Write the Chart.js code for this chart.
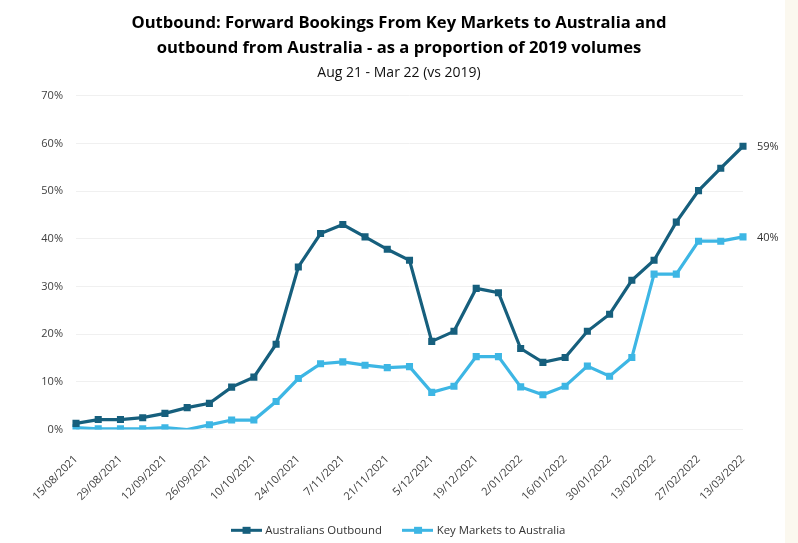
<!DOCTYPE html>
<html>
<head>
<meta charset="utf-8">
<script src="https://cdn.jsdelivr.net/npm/chart.js@4/dist/chart.umd.min.js"></script>
<style>
html,body{margin:0;padding:0;background:#ffffff;}
</style>
</head>
<body>
<canvas id="c" width="798" height="543"></canvas>
<script>
const weeks = ["15/08/2021","22/08/2021","29/08/2021","5/09/2021","12/09/2021","19/09/2021","26/09/2021","3/10/2021","10/10/2021","17/10/2021","24/10/2021","31/10/2021","7/11/2021","14/11/2021","21/11/2021","28/11/2021","5/12/2021","12/12/2021","19/12/2021","26/12/2021","2/01/2022","9/01/2022","16/01/2022","23/01/2022","30/01/2022","6/02/2022","13/02/2022","20/02/2022","27/02/2022","6/03/2022","13/03/2022"];
const australiansOutbound = [1.3,2.1,2.1,2.5,3.4,4.6,5.5,8.9,11.0,17.9,34.1,41.1,43.0,40.4,37.8,35.5,18.5,20.6,29.6,28.7,17.0,14.1,15.1,20.6,24.2,31.3,35.5,43.5,50.1,54.8,59.4];
const keyMarketsToAustralia = [0.4,0.15,0.15,0.15,0.4,0,1.0,2.0,2.0,5.9,10.7,13.8,14.2,13.5,13.0,13.2,7.8,9.1,15.3,15.3,8.95,7.3,9.1,13.3,11.2,15.1,32.6,32.6,39.5,39.5,40.4];
const yTicks = [0,10,20,30,40,50,60,70];
const seriesNames = ["Australians Outbound","Key Markets to Australia"];

const DARK = '#165F7D', LIGHT = '#3DB6E4';
const FONT = "'Open Sans', sans-serif";

function legendIcon(color){
  const c = document.createElement('canvas');
  c.width = 31; c.height = 9;
  const g = c.getContext('2d');
  g.fillStyle = color;
  g.fillRect(0,3,31,3);
  g.fillRect(12,1,8,7);
  return c;
}

const sideStripe = {
  id:'sideStripe',
  beforeDraw(chart){
    const ctx = chart.ctx;
    ctx.save();
    ctx.fillStyle = '#ffffff';
    ctx.fillRect(0,0,chart.width,chart.height);
    ctx.fillStyle = '#FBF8EF';
    ctx.fillRect(785,0,chart.width-785,chart.height);
    ctx.restore();
  }
};

const endLabels = {
  id:'endLabels',
  afterDatasetsDraw(chart){
    const ctx = chart.ctx;
    ctx.save();
    ctx.font = "11px " + FONT;
    ctx.fillStyle = '#333333';
    ctx.textAlign = 'left'; ctx.textBaseline = 'middle';
    chart.data.datasets.forEach((ds,i)=>{
      const meta = chart.getDatasetMeta(i);
      const pt = meta.data[meta.data.length-1];
      const v = ds.data[ds.data.length-1];
      ctx.fillText(Math.round(v)+'%', pt.x+14, pt.y+1);
    });
    ctx.restore();
  }
};

new Chart(document.getElementById('c'), {
  type:'line',
  data:{
    labels: weeks,
    datasets:[
      {label:seriesNames[0], data:australiansOutbound, borderColor:DARK, backgroundColor:DARK,
       borderWidth:3.2, pointStyle:'rect', pointRadius:5, pointBackgroundColor:DARK, pointBorderWidth:0, tension:0},
      {label:seriesNames[1], data:keyMarketsToAustralia, borderColor:LIGHT, backgroundColor:LIGHT,
       borderWidth:3.2, pointStyle:'rect', pointRadius:(c)=> (c.raw<=0?0:5), pointBackgroundColor:LIGHT, pointBorderWidth:0, tension:0}
    ]
  },
  options:{
    responsive:false, animation:false,
    layout:{padding:{left:0,right:0,top:0,bottom:-3}},
    plugins:{
      title:{display:true, text:["Outbound: Forward Bookings From Key Markets to Australia and","outbound from Australia - as a proportion of 2019 volumes"],
        color:'#000', font:{family:FONT, size:16.6, weight:'bold', lineHeight:1.5}, padding:{top:10.5,bottom:0}},
      subtitle:{display:true, text:"Aug 21 - Mar 22 (vs 2019)", color:'#111',
        font:{family:FONT, size:14, lineHeight:1.2}, padding:{top:4,bottom:14.6}},
      legend:{position:'bottom', labels:{usePointStyle:true, pointStyleWidth:27, boxHeight:9,
        color:'#333', font:{family:FONT, size:11.4}, padding:22,
        generateLabels(chart){
          return chart.data.datasets.map((ds,i)=>({text:ds.label, pointStyle:legendIcon(ds.borderColor),
            fillStyle:ds.borderColor, strokeStyle:ds.borderColor, lineWidth:0, datasetIndex:i, hidden:false, fontColor:'#333'}));
        }}},
      tooltip:{enabled:false}
    },
    scales:{
      x:{offset:false, grid:{display:false}, border:{display:false},
        ticks:{autoSkip:false, minRotation:45, maxRotation:45, color:'#404040', font:{family:FONT,size:11}, padding:15,
          callback(v,i){ return i%2===0 ? weeks[i] : null; }},
        afterFit(s){ s.height = 73; }
      },
      y:{min:0, max:70, grid:{color:'#F0F0F0', lineWidth:1, drawTicks:false}, border:{display:false},
        ticks:{stepSize:10, color:'#404040', font:{family:FONT,size:11}, padding:13,
          callback(v){ return yTicks.includes(v) ? v+'%' : null; }},
        afterFit(s){ s.width = 76; }
      },
      yR:{position:'right', display:true, min:0, max:70, grid:{display:false}, border:{display:false},
        ticks:{display:false}, afterFit(s){ s.width = 55; }}
    }
  },
  plugins:[sideStripe, endLabels]
});
</script>
</body>
</html>
